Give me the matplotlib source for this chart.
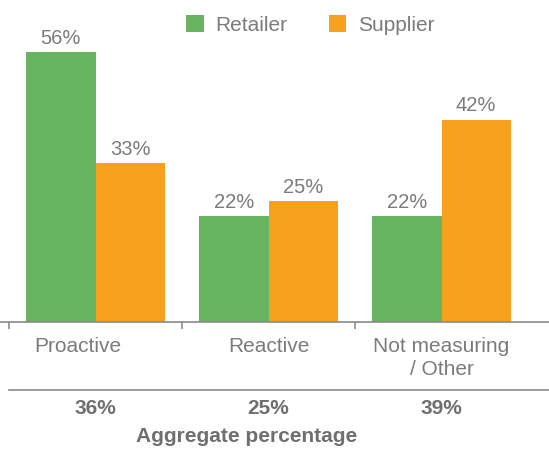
import matplotlib.pyplot as plt
import numpy as np

plt.rcParams['font.family'] = ['Liberation Sans', 'DejaVu Sans']

categories = ["Proactive", "Reactive", "Not measuring\n/ Other"]
retailer = [56, 22, 22]
supplier = [33, 25, 42]
aggregate = ["36%", "25%", "39%"]

green = "#66b360"
orange = "#f6a01e"
gray = "#7b7b7d"

fig = plt.figure(figsize=(5.49, 4.55), dpi=100)
ax = fig.add_axes([0, 0.2923, 1, 0.7077])

x = np.arange(len(categories))
w = 0.4
b1 = ax.bar(x - w / 2, retailer, w, color=green, label="Retailer")
b2 = ax.bar(x + w / 2, supplier, w, color=orange, label="Supplier")

for bars in (b1, b2):
    for r in bars:
        ax.text(r.get_x() + r.get_width() / 2, r.get_height() + 1.7,
                f"{r.get_height():.0f}%", ha="center", va="baseline",
                fontsize=14.5, color=gray)

ax.set_xlim(-0.552, 2.621)
ax.set_ylim(0, 66.8)
for s in ["top", "right", "left"]:
    ax.spines[s].set_visible(False)
ax.spines["bottom"].set_color("#8a8a8a")
ax.spines["bottom"].set_linewidth(1.2)
ax.set_yticks([])
ax.set_xticks([-0.5, 0.5, 1.5])
ax.set_xticklabels([])
ax.tick_params(axis="x", length=5, width=1.2, color="#8a8a8a")

# category labels
label_x = [-0.1, 0.0, 0.0]
for xi, dx, c in zip(x, label_x, categories):
    ax.text(xi + dx, -3.2, c, ha="center", va="top", fontsize=15,
            color=gray, linespacing=1.22)

# separator line and aggregate row
ax.plot([-0.5, 2.621], [-14.1, -14.1], color="#8a8a8a", lw=1.2, clip_on=False)
for xi, a in zip(x, aggregate):
    ax.text(xi, -17.9, a, ha="center", va="center", fontsize=15,
            color="#6f6f71", fontweight="bold")
ax.text(0.875, -23.7, "Aggregate percentage", ha="center", va="center",
        fontsize=15, color="#6f6f71", fontweight="bold")

leg = ax.legend(loc="upper center", bbox_to_anchor=(0.565, 0.998), ncol=2,
                frameon=False, fontsize=15, handlelength=0.85,
                handleheight=0.85, handletextpad=0.55, columnspacing=2.0,
                borderaxespad=0.3)
for t in leg.get_texts():
    t.set_color(gray)

fig.savefig("out.png", dpi=100)
